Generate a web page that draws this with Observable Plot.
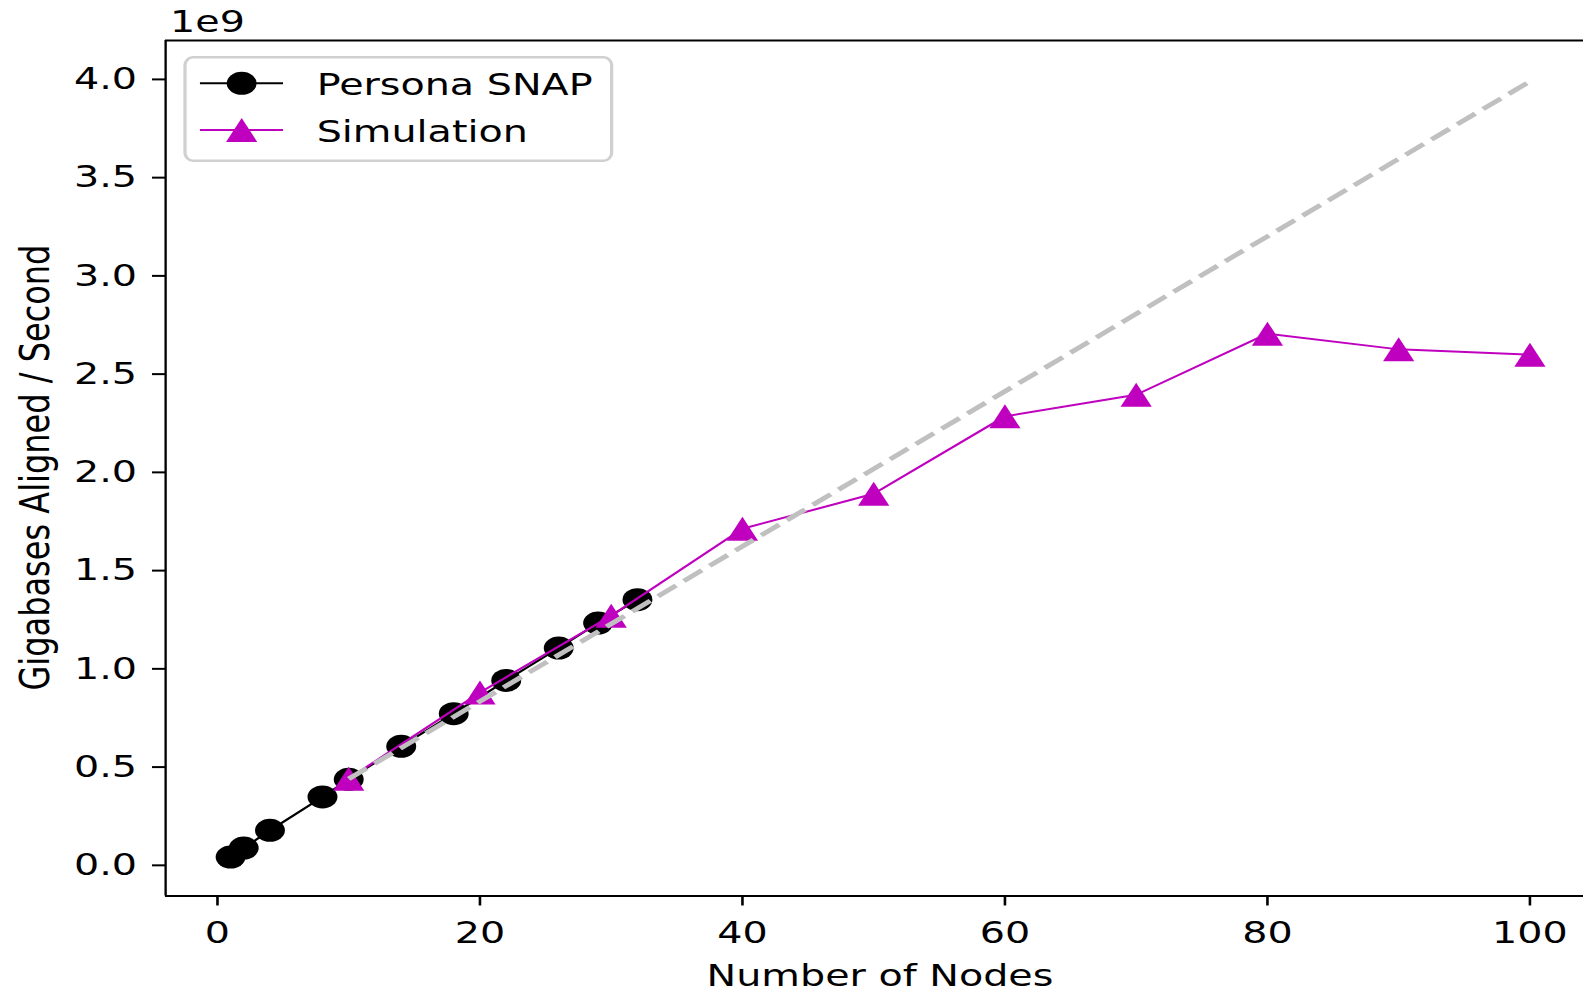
<!DOCTYPE html>
<html>
<head>
<meta charset="utf-8">
<script src="https://cdn.jsdelivr.net/npm/d3@7"></script>
<script src="https://cdn.jsdelivr.net/npm/@observablehq/plot@0.6"></script>
<style>
html, body { margin: 0; padding: 0; background: #fff; overflow: hidden; width: 1583px; height: 993px; }
#chart { width: 1583px; height: 993px; overflow: hidden; position: relative; }
#chart svg { transform: scaleX(1.3); transform-origin: 0 0; overflow: hidden !important; max-width: none !important; }
</style>
</head>
<body>
<div id="chart"></div>
<script>
// ---- data (values in aligned bases / second) ----
const snapNodes = [1, 2, 4, 8, 10, 14, 18, 22, 26, 29, 32];
const snapRate  = [0.042e9, 0.088e9, 0.178e9, 0.348e9, 0.438e9, 0.606e9, 0.772e9, 0.941e9, 1.106e9, 1.233e9, 1.352e9];
const simNodes  = [10, 20, 30, 40, 50, 60, 70, 80, 90, 100];
const simRate   = [0.441e9, 0.880e9, 1.270e9, 1.713e9, 1.891e9, 2.285e9, 2.395e9, 2.706e9, 2.626e9, 2.599e9];
const idealNodes = [10, 100];
const idealRate  = [0.44e9, 3.99e9];
const xTicks = [0, 20, 40, 60, 80, 100];
const yTicks = [0, 0.5e9, 1.0e9, 1.5e9, 2.0e9, 2.5e9, 3.0e9, 3.5e9, 4.0e9];
const xDomain = [-3.95, 104.95];
const yDomain = [-0.156e9, 4.198e9];
const seriesNames = ["Persona SNAP", "Simulation"];
const seriesColors = ["#000000", "#bf00bf"];
const idealColor = "#c0c0c0";

const S = 1.3;            // horizontal stretch of the reference picture
const W = 1583 / S;

const snap = snapNodes.map((n, i) => ({n, v: snapRate[i]}));
const sim = simNodes.map((n, i) => ({n, v: simRate[i]}));
const ideal = idealNodes.map((n, i) => ({n, v: idealRate[i]}));

const tri = {
  draw(ctx, size) {
    const r = Math.sqrt(size / Math.PI);
    ctx.moveTo(0, -r); ctx.lineTo(r, r); ctx.lineTo(-r, r); ctx.closePath();
  }
};

const mL = 126.9, mT = 40, mB = 97.5;
const chart = Plot.plot({
  width: W,
  height: 993,
  marginLeft: mL,
  marginRight: 0,
  marginTop: mT,
  marginBottom: mB,
  style: {fontFamily: "DejaVu Sans", fontSize: "30.5px", color: "black", background: "white"},
  x: {domain: xDomain, range: [mL, mL + (xDomain[1] - xDomain[0]) * 10.096]},
  y: {domain: yDomain},
  marks: [
    Plot.ruleY([yDomain[0], yDomain[1]], {x1: xDomain[0], x2: xDomain[1], stroke: "black", strokeWidth: 2.2}),
    Plot.ruleX([xDomain[0]], {y1: yDomain[0], y2: yDomain[1], stroke: "black", strokeWidth: 1.8}),
    Plot.axisX(xTicks, {tickSize: 10, tickPadding: 15, strokeWidth: 2, label: null, tickFormat: d => String(d)}),
    Plot.axisY(yTicks, {tickSize: 10, tickPadding: 12, strokeWidth: 2, label: null, tickFormat: d => (d / 1e9).toFixed(1)}),
    Plot.line(snap, {x: "n", y: "v", stroke: seriesColors[0], strokeWidth: 2}),
    Plot.dot(snap, {x: "n", y: "v", r: 11.5, fill: seriesColors[0], stroke: null}),
    Plot.line(sim, {x: "n", y: "v", stroke: seriesColors[1], strokeWidth: 2}),
    Plot.dot(sim, {x: "n", y: "v", r: 12, symbol: tri, fill: seriesColors[1], stroke: null}),
    Plot.line(ideal, {x: "n", y: "v", stroke: idealColor, strokeWidth: 4.5, strokeDasharray: "17.5,7.5", strokeLinecap: "butt"})
  ]
});

const svg = d3.select(chart);
svg.append("text").attr("x", 130.8).attr("y", 32.5).attr("text-anchor", "start").attr("fill", "black").text("1e9");
svg.append("text").attr("x", 676.9).attr("y", 986).attr("text-anchor", "middle").attr("fill", "black").text("Number of Nodes");
svg.append("text").attr("transform", "translate(38,467.5) rotate(-90)").attr("text-anchor", "middle")
  .attr("font-size", "32px").attr("fill", "black").text("Gigabases Aligned / Second");

// legend
const lg = svg.append("g");
lg.append("rect").attr("x", 142.3).attr("y", 57.3).attr("width", 328.2).attr("height", 103.4)
  .attr("rx", 6).attr("ry", 8).attr("fill", "white").attr("fill-opacity", 0.8)
  .attr("stroke", "#d0d0d0").attr("stroke-width", 2.5);
const rowY = [83.3, 130];
const textY = [95, 141.7];
seriesNames.forEach((name, i) => {
  lg.append("line").attr("x1", 153.8).attr("x2", 217.7).attr("y1", rowY[i]).attr("y2", rowY[i])
    .attr("stroke", seriesColors[i]).attr("stroke-width", 2);
  if (i === 0) {
    lg.append("circle").attr("cx", 185.9).attr("cy", rowY[i]).attr("r", 11.5).attr("fill", seriesColors[i]);
  } else {
    const r = 12;
    lg.append("path").attr("d", `M${185.9},${rowY[i] - r}L${185.9 + r},${rowY[i] + r}L${185.9 - r},${rowY[i] + r}Z`)
      .attr("fill", seriesColors[i]);
  }
  lg.append("text").attr("x", 243.6).attr("y", textY[i]).attr("text-anchor", "start").attr("fill", "black").text(name);
});

document.getElementById("chart").appendChild(chart);
</script>
</body>
</html>
